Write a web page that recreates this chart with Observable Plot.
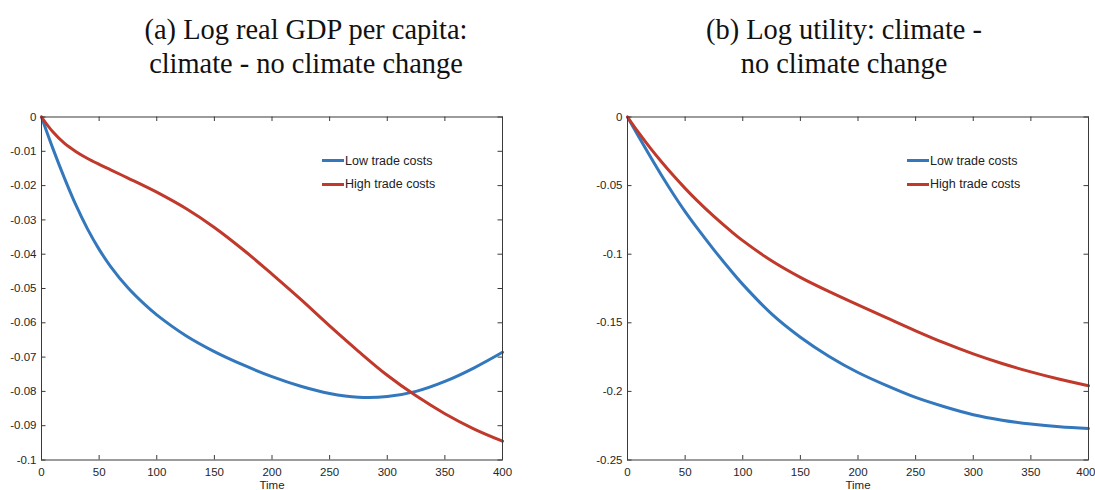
<!DOCTYPE html>
<html><head><meta charset="utf-8">
<script src="https://cdn.jsdelivr.net/npm/d3@7"></script>
<script src="https://cdn.jsdelivr.net/npm/@observablehq/plot@0.6"></script>
<style>
html,body{margin:0;padding:0;background:#fff;}
#root{position:relative;width:1095px;height:490px;overflow:hidden;background:#fff;}
.panel{position:absolute;top:0;}
.title{position:absolute;width:520px;font-family:"Liberation Serif","Times New Roman",serif;font-size:28.4px;line-height:33.5px;text-align:center;color:#111;white-space:nowrap;}
.lg{position:absolute;height:16px;display:flex;align-items:center;white-space:nowrap;font-family:"Liberation Sans",Arial,sans-serif;font-size:12.5px;color:#222;}
.lg .sw{display:inline-block;width:22px;height:3px;margin-right:1.5px;}
</style></head><body><div id="root"></div>
<script>
// ---- data ----
const seriesNames = ["Low trade costs", "High trade costs"];
const seriesColors = ["#3378bd", "#c0392b"];
const xLabel = "Time";
const xTicks = [0, 50, 100, 150, 200, 250, 300, 350, 400];

const titleA = ["(a) Log real GDP per capita:", "climate - no climate change"];
const timeA = [0,10,20,30,40,50,60,75,90,100,125,150,175,200,225,250,275,300,325,350,375,400];
const lowA  = [0,-0.0093,-0.0179,-0.0258,-0.0327,-0.0386,-0.0436,-0.0498,-0.0548,-0.0577,-0.0637,-0.0684,-0.0723,-0.0757,-0.0785,-0.0806,-0.0817,-0.0815,-0.0800,-0.0771,-0.0732,-0.0686];
const highA = [0,-0.0044,-0.0077,-0.0101,-0.0121,-0.0138,-0.0154,-0.0178,-0.0202,-0.0219,-0.0266,-0.0322,-0.0387,-0.0458,-0.0532,-0.0609,-0.0683,-0.0753,-0.0813,-0.0865,-0.0909,-0.0945];
const yTicksA = [0,-0.01,-0.02,-0.03,-0.04,-0.05,-0.06,-0.07,-0.08,-0.09,-0.1];
const yLabelsA = ["0","-0.01","-0.02","-0.03","-0.04","-0.05","-0.06","-0.07","-0.08","-0.09","-0.1"];

const titleB = ["(b) Log utility: climate -", "no climate change"];
const timeB = [0,10,20,30,40,50,60,75,90,100,125,150,175,200,225,250,275,300,325,350,375,400];
const lowB  = [0,-0.0148,-0.0292,-0.0432,-0.0565,-0.0690,-0.0805,-0.0968,-0.1123,-0.1220,-0.1435,-0.1605,-0.1745,-0.1862,-0.1958,-0.2044,-0.2112,-0.2170,-0.2210,-0.2238,-0.2258,-0.2270];
const highB = [0,-0.0118,-0.0229,-0.0332,-0.0429,-0.0520,-0.0606,-0.0725,-0.0834,-0.0901,-0.1048,-0.1169,-0.1273,-0.1369,-0.1464,-0.1558,-0.1647,-0.1727,-0.1797,-0.1858,-0.1912,-0.1959];
const yTicksB = [0,-0.05,-0.1,-0.15,-0.2,-0.25];
const yLabelsB = ["0","-0.05","-0.1","-0.15","-0.2","-0.25"];

// ---- drawing ----
const axisColor = "#3a3a3a";
const H = 490, MT = 116.5, MB = 490 - 459.5;

function panel({width, marginLeft, marginRight, time, low, high, yTicks, yLabels, keepLast}) {
  const rows = time.flatMap((t, i) => [
    {t, v: low[i], s: seriesNames[0]},
    {t, v: high[i], s: seriesNames[1]}
  ]);
  const frameH = H - MT - MB;
  const frameW = width - marginLeft - marginRight;
  const fmtY = d => yLabels[yTicks.indexOf(d)];
  const labelTicks = keepLast ? xTicks : xTicks.slice(0, -1);
  const lastTick = keepLast ? [] : xTicks.slice(-1);
  return Plot.plot({
    width, height: H, marginLeft, marginRight, marginTop: MT, marginBottom: MB,
    style: {fontFamily: "'Liberation Sans', Arial, sans-serif", fontSize: "11.5px", color: "#262626", background: "transparent"},
    x: {domain: d3.extent(xTicks)},
    y: {domain: d3.extent(yTicks)},
    color: {domain: seriesNames, range: seriesColors},
    marks: [
      Plot.axisX(labelTicks, {tickSize: 0, tickPadding: 8, label: null, tickFormat: d => String(d)}),
      Plot.text(lastTick, {x: d => d, text: d => String(d), frameAnchor: "bottom", lineAnchor: "top", textAnchor: "end", dx: 7, dy: 8, fill: "#262626"}),
      Plot.axisY(yTicks, {tickSize: 0, tickPadding: 5, label: null, tickFormat: fmtY}),
      Plot.tickX(xTicks, {x: d => d, insetTop: frameH - 4.5, stroke: axisColor}),
      Plot.tickX(xTicks, {x: d => d, insetBottom: frameH - 4.5, stroke: axisColor}),
      Plot.tickY(yTicks, {y: d => d, insetRight: frameW - 4.5, stroke: axisColor}),
      Plot.tickY(yTicks, {y: d => d, insetLeft: frameW - 4.5, stroke: axisColor}),
      Plot.line(rows, {x: "t", y: "v", stroke: "s", z: "s", strokeWidth: 3, curve: "catmull-rom"}),
      Plot.frame({stroke: axisColor}),
      Plot.text([xLabel], {text: d => d, frameAnchor: "bottom", dy: 20.5, lineAnchor: "top", fontSize: 11.5, fill: "#262626"})
    ]
  });
}

const root = document.getElementById("root");

function place(el, left) {
  el.classList.add("panel");
  el.style.left = left + "px";
  root.appendChild(el);
}

place(panel({width: 520, marginLeft: 41, marginRight: 18, time: timeA, low: lowA, high: highA, yTicks: yTicksA, yLabels: yLabelsA, keepLast: true}), 0);
place(panel({width: 525, marginLeft: 57, marginRight: 7, time: timeB, low: lowB, high: highB, yTicks: yTicksB, yLabels: yLabelsB, keepLast: false}), 570);

function title(lines, center) {
  const d = document.createElement("div");
  d.className = "title";
  d.style.left = (center - 260) + "px";
  d.style.top = "13px";
  d.innerHTML = lines.map(s => s.replace(/&/g, "&amp;").replace(/</g, "&lt;")).join("<br>");
  root.appendChild(d);
}
title(titleA, 306);
title(titleB, 844);

function legend(left, tops) {
  seriesNames.forEach((name, i) => {
    const row = document.createElement("div");
    row.className = "lg";
    row.style.left = left + "px";
    row.style.top = (tops[i] - 8) + "px";
    const sw = document.createElement("span");
    sw.className = "sw";
    sw.style.background = seriesColors[i];
    const tx = document.createElement("span");
    tx.textContent = name;
    row.appendChild(sw);
    row.appendChild(tx);
    root.appendChild(row);
  });
}
legend(321.5, [160.5, 184]);
legend(906.5, [160.5, 184]);
</script>
</body></html>
